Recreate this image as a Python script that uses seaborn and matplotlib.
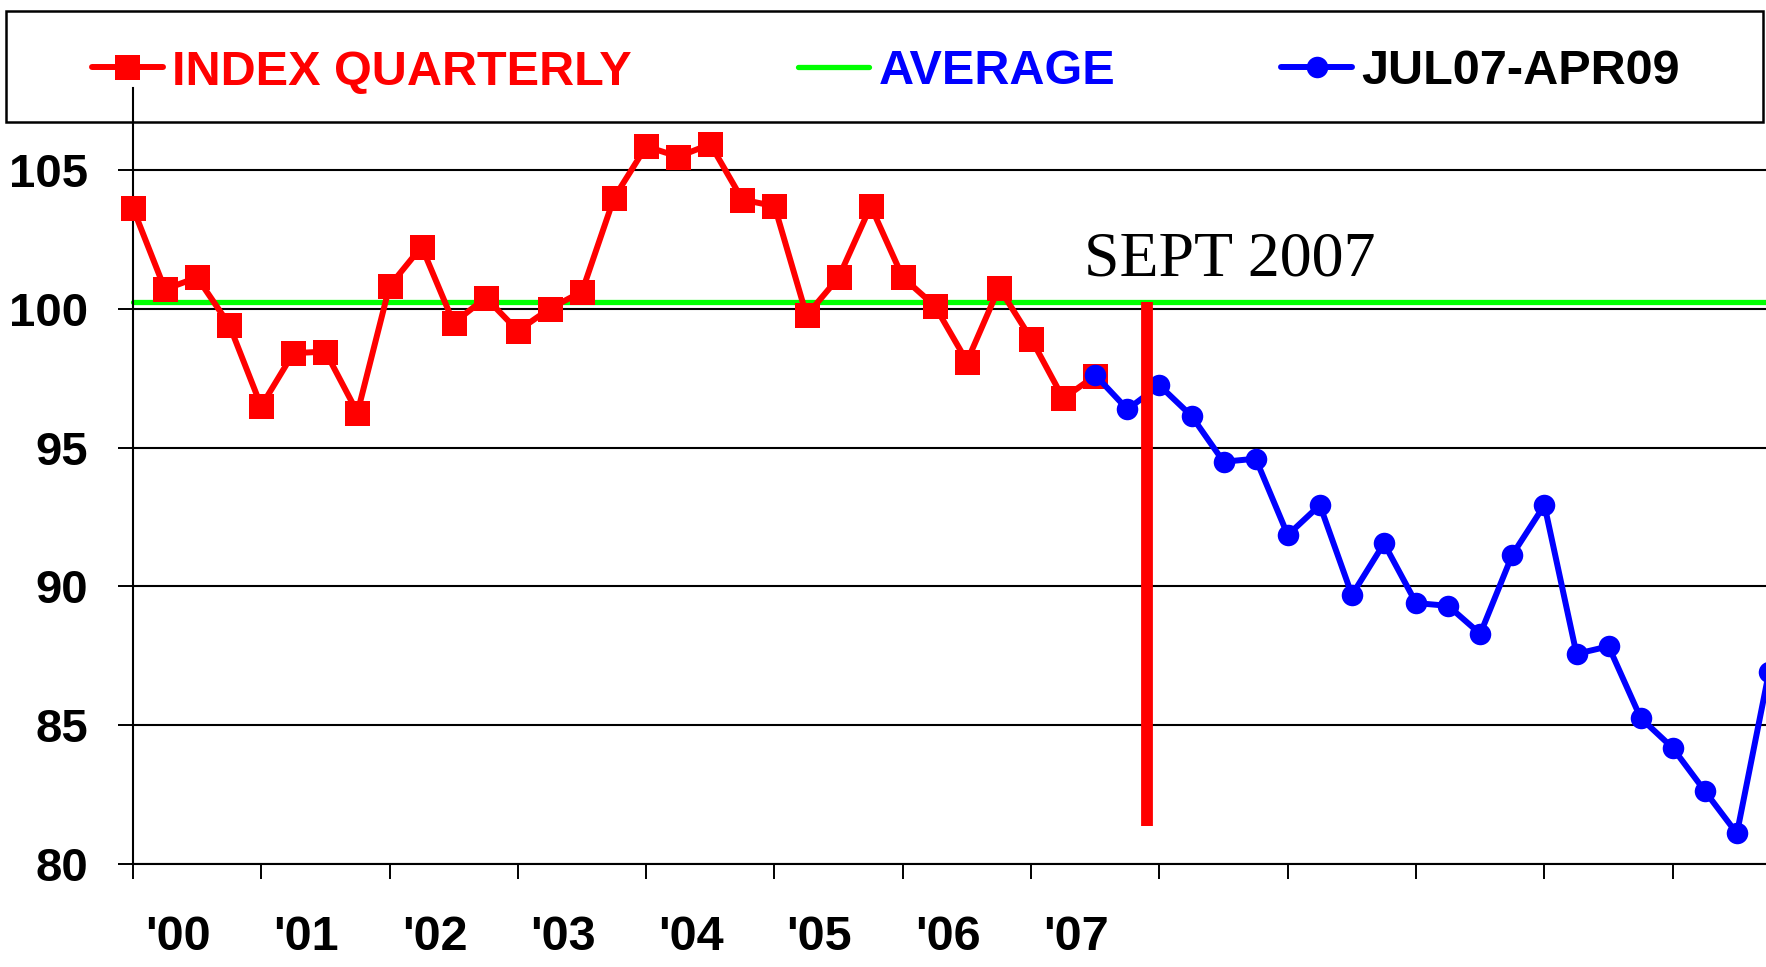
import matplotlib
matplotlib.use("Agg")
import matplotlib.pyplot as plt
from matplotlib.patches import Rectangle
from matplotlib.lines import Line2D
import seaborn as sns
import pandas as pd
import numpy as np

# ---- data ----
index_quarterly = [103.63, 100.70, 101.13, 99.43, 96.49, 98.40, 98.46, 96.26,
                   100.82, 102.24, 99.49, 100.40, 99.21, 100.01, 100.62, 104.00,
                   105.85, 105.48, 105.93, 103.93, 103.70, 99.76, 101.13, 103.70,
                   101.13, 100.10, 98.10, 100.76, 98.92, 96.77, 97.59]
recent = [97.61, 96.38, 97.24, 96.14, 94.49, 94.60, 91.85, 92.93, 89.69, 91.55,
          89.40, 89.30, 88.29, 91.14, 92.93, 87.57, 87.84, 85.26, 84.18, 82.63,
          81.10, 86.91]
average_value = 100.23
sept_2007_pos = 31.6
sept_line_bottom = 81.38
year_labels = ["'00", "'01", "'02", "'03", "'04", "'05", "'06", "'07"]
y_ticks = [80, 85, 90, 95, 100, 105]
legend_labels = ["INDEX QUARTERLY", "AVERAGE", "JUL07-APR09"]
annotation = "SEPT 2007"

q_idx = list(range(len(index_quarterly)))
r_start = len(index_quarterly) - 1
r_idx = list(range(r_start, r_start + len(recent)))
df_q = pd.DataFrame({"q": q_idx, "v": index_quarterly})
df_r = pd.DataFrame({"q": r_idx, "v": recent})

# ---- style ----
sns.set_theme(style="white")
plt.rcParams["font.family"] = ["Liberation Sans", "DejaVu Sans"]
plt.rcParams["font.weight"] = "bold"

W, H = 1766, 967
fig = plt.figure(figsize=(W / 100, H / 100), dpi=100)
left_px, right_px, top_px, bot_px = 132.9, 1766, 88, 864
ax = fig.add_axes([left_px / W, 1 - bot_px / H, (right_px - left_px) / W, (bot_px - top_px) / H])

RED, BLUE, GREEN = "#FF0000", "#0000FF", "#00FF00"
LW = 4.3
SQ, CI = 18, 15.5

sns.lineplot(data=df_q, x="q", y="v", ax=ax, color=RED, linewidth=LW, marker="s",
             markersize=SQ, markeredgewidth=0, zorder=3, legend=False)
ax.axhline(average_value, color=GREEN, linewidth=3.8, zorder=2.5)
sns.lineplot(data=df_r, x="q", y="v", ax=ax, color=BLUE, linewidth=LW, marker="o",
             markersize=CI, markeredgewidth=0, zorder=4, legend=False)
for ln in ax.lines:
    ln.set_clip_on(False)
ax.vlines(sept_2007_pos, sept_line_bottom, average_value, color=RED, linewidth=8.5,
          zorder=5, capstyle="butt")
ax.text(29.66, 101.21, annotation, family="Liberation Serif", fontweight="normal",
        fontsize=46, color="black", ha="left", va="baseline", zorder=6)

# ---- axes ----
ax.set_xlim(0, (right_px - left_px) / 32.08)
ax.set_ylim(80, 80 + (bot_px - top_px) / 27.76)
ax.set_xlabel("")
ax.set_ylabel("")
ax.set_yticks(y_ticks)
ax.set_yticklabels([str(t) for t in y_ticks])
ax.set_xticks(np.arange(0, 52, 4))
ax.set_xticklabels([])
ax.set_xticks([1.4 + 4 * k for k in range(len(year_labels))], minor=True)
ax.set_xticklabels(year_labels, minor=True)
ax.tick_params(axis="x", which="major", direction="out", length=11, width=1.4,
               color="black", bottom=True)
ax.tick_params(axis="x", which="minor", length=0, pad=37, labelsize=35, labelcolor="black")
ax.tick_params(axis="y", which="major", direction="out", length=11, width=1.4,
               color="black", left=True, pad=21, labelsize=34, labelcolor="black")
for lab in ax.get_xticklabels(minor=True) + ax.get_yticklabels():
    lab.set_fontweight("bold")
ax.grid(axis="y", color="black", linewidth=1.5, zorder=1)
ax.grid(axis="x", visible=False)
ax.set_axisbelow(True)
for s in ["top", "right"]:
    ax.spines[s].set_visible(False)
for s in ["left", "bottom"]:
    ax.spines[s].set_color("black")
    ax.spines[s].set_linewidth(1.5)

# ---- legend ----
handles = [
    Line2D([], [], color=RED, linewidth=LW, marker="s", markersize=SQ, markeredgewidth=0),
    Line2D([], [], color=GREEN, linewidth=3.8),
    Line2D([], [], color=BLUE, linewidth=LW, marker="o", markersize=CI, markeredgewidth=0),
]
leg = fig.legend(handles, legend_labels, loc="center left",
                 bbox_to_anchor=(92 / W, 1 - 72 / H), ncol=3, frameon=False,
                 prop={"family": "Liberation Sans", "weight": "bold", "size": 35},
                 handlelength=1.46, handletextpad=0.19, columnspacing=3.42,
                 borderpad=0, borderaxespad=0)
for t, c in zip(leg.get_texts(), [RED, BLUE, "black"]):
    t.set_color(c)

fig.patches.append(Rectangle((5.6 / W, 1 - 122 / H), (1763 - 5.6) / W, 111 / H,
                             transform=fig.transFigure, fill=False, edgecolor="black",
                             linewidth=1.8, zorder=10))

fig.savefig("out.png", dpi=100)
